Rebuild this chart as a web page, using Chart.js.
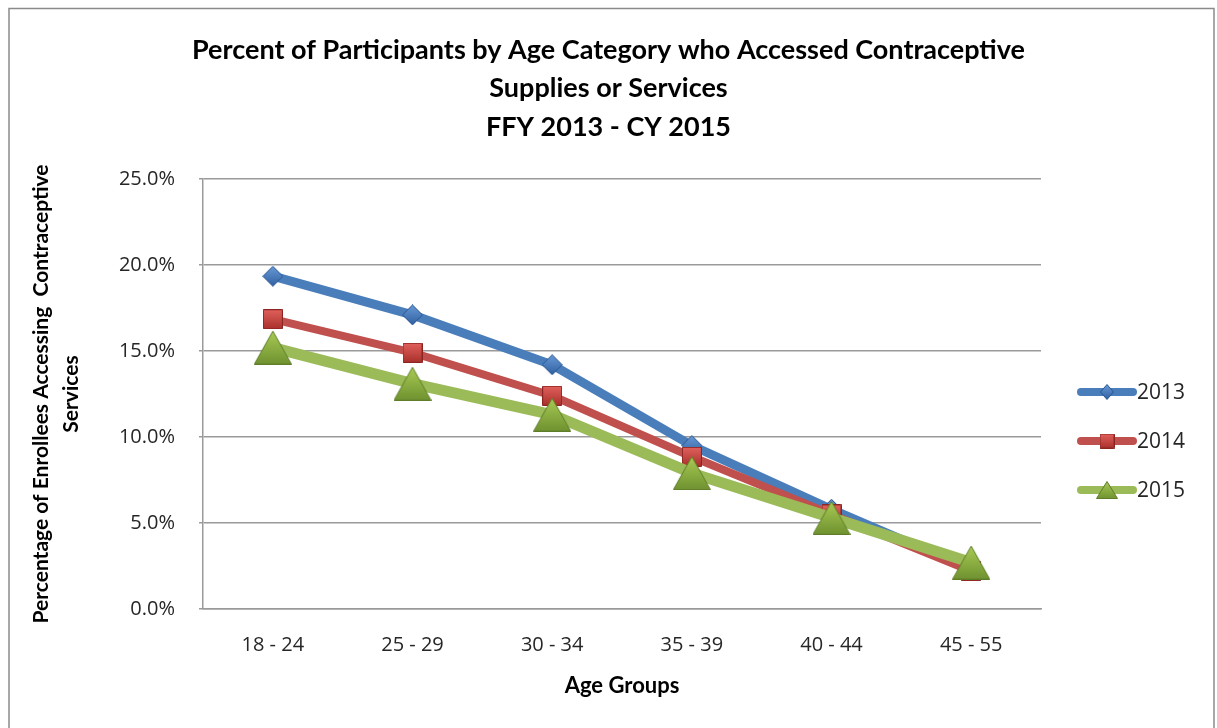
<!DOCTYPE html>
<html>
<head>
<meta charset="utf-8">
<script src="https://cdn.jsdelivr.net/npm/chart.js@4/dist/chart.umd.min.js"></script>
<style>
  html, body { margin: 0; padding: 0; background: #ffffff; }
  #wrap { width: 1217px; height: 728px; }
</style>
</head>
<body>
<div id="wrap"><canvas id="chart" width="1217" height="728"></canvas></div>
<script>
// --- DATOS ---
const ageGroups = ['18 - 24', '25 - 29', '30 - 34', '35 - 39', '40 - 44', '45 - 55'];
const years = ['2013', '2014', '2015'];
const pct2013 = [19.35, 17.1, 14.2, 9.5, 5.8, 2.3];
const pct2014 = [16.85, 14.9, 12.4, 8.85, 5.5, 2.2];
const pct2015 = [15.2, 13.1, 11.3, 7.9, 5.3, 2.7];
const yTicks = [0, 5, 10, 15, 20, 25];

const titleLines = [
    'Percent of Participants by Age Category who Accessed Contraceptive',
    'Supplies or Services',
    'FFY 2013 - CY 2015'
];
const yTitle = ['Percentage of Enrollees Accessing  Contraceptive', 'Services'];
const xTitle = 'Age Groups';

// --- MARCADORES (canvas propios, centrados en su caja) ---
function makeMarker(kind, w, h, light, dark, edge) {
    const c = document.createElement('canvas');
    c.width = w; c.height = h;
    const ctx = c.getContext('2d');
    const g = ctx.createLinearGradient(0, 0, 0, h);
    g.addColorStop(0, light);
    g.addColorStop(1, dark);
    ctx.fillStyle = g;
    ctx.strokeStyle = edge;
    ctx.lineWidth = 1;
    ctx.beginPath();
    if (kind === 'diamond') {
        ctx.moveTo(w / 2, 0.5); ctx.lineTo(w - 0.5, h / 2);
        ctx.lineTo(w / 2, h - 0.5); ctx.lineTo(0.5, h / 2);
    } else if (kind === 'square') {
        ctx.rect(0.5, 0.5, w - 1, h - 1);
    } else {
        ctx.moveTo(w / 2, 0.5); ctx.lineTo(w - 0.5, h - 0.5); ctx.lineTo(0.5, h - 0.5);
    }
    ctx.closePath();
    ctx.fill();
    ctx.stroke();
    return c;
}

const markers = [
    makeMarker('diamond', 21, 21, '#6a9bd8', '#2f5f9f', '#2a5590'),
    makeMarker('square', 20, 20, '#e2625d', '#a8302c', '#8c2522'),
    makeMarker('triangle', 38, 34, '#a9cc55', '#6f9130', '#5f7d28')
];
const legendMarkers = [
    makeMarker('diamond', 14, 16, '#6a9bd8', '#2f5f9f', '#2a5590'),
    makeMarker('square', 15, 15, '#e2625d', '#a8302c', '#8c2522'),
    makeMarker('triangle', 22, 18, '#a9cc55', '#6f9130', '#5f7d28')
];
const lineColors = ['#4a7ebb', '#c0504d', '#9bbb59'];
const lineWidths = [9, 8, 11];

// --- PLUGINS ---
const framePlugin = {
    id: 'frame',
    beforeDraw(chart) {
        const ctx = chart.ctx;
        ctx.save();
        ctx.fillStyle = '#ffffff';
        ctx.fillRect(0, 0, chart.width, chart.height);
        ctx.strokeStyle = '#8a8a8a';
        ctx.lineWidth = 1.5;
        ctx.strokeRect(9, 8.5, 1205, 740);
        ctx.restore();
    }
};

const sideLegend = {
    id: 'sideLegend',
    afterDraw(chart) {
        const ctx = chart.ctx;
        const rows = [392, 441, 490];
        ctx.save();
        chart.data.datasets.forEach((ds, i) => {
            const y = rows[i];
            ctx.strokeStyle = ds.borderColor;
            ctx.lineWidth = 8;
            ctx.lineCap = 'round';
            ctx.beginPath();
            ctx.moveTo(1081, y);
            ctx.lineTo(1133, y);
            ctx.stroke();
            const m = legendMarkers[i];
            ctx.drawImage(m, 1107 - m.width / 2, y - m.height / 2);
            ctx.fillStyle = '#262626';
            ctx.font = '21px "Open Sans"';
            ctx.textBaseline = 'middle';
            ctx.textAlign = 'left';
            ctx.fillText(ds.label, 1137, y + 1);
        });
        ctx.restore();
    }
};

const allSeries = [pct2013, pct2014, pct2015];

new Chart(document.getElementById('chart').getContext('2d'), {
    type: 'line',
    data: {
        labels: ageGroups,
        datasets: years.map((yr, i) => ({
            label: yr,
            data: allSeries[i],
            borderColor: lineColors[i],
            backgroundColor: lineColors[i],
            borderWidth: lineWidths[i],
            tension: 0,
            pointStyle: markers[i],
            order: 2 - i
        }))
    },
    options: {
        responsive: false,
        animation: false,
        events: [],
        layout: { padding: 0 },
        plugins: {
            legend: { display: false },
            tooltip: { enabled: false },
            title: {
                display: true,
                text: titleLines,
                color: '#000000',
                font: { family: 'Lato', size: 27, weight: 'bold', lineHeight: 1.42 },
                padding: { top: 31, bottom: 33 }
            }
        },
        scales: {
            x: {
                offset: true,
                grid: { display: false, drawTicks: false },
                border: { display: true, color: '#9a9a9a', width: 1.5 },
                ticks: {
                    color: '#262626',
                    padding: 24,
                    font: { family: 'Open Sans', size: 20 }
                },
                title: {
                    display: true,
                    text: xTitle,
                    color: '#000000',
                    font: { family: 'Lato', size: 22, weight: 'bold' },
                    padding: { top: 0, bottom: 29 }
                },
                afterFit(scale) { scale.height = 119; }
            },
            y: {
                min: 0,
                max: 25,
                afterBuildTicks(scale) { scale.ticks = yTicks.map(v => ({ value: v })); },
                grid: { color: '#9a9a9a', lineWidth: 1.5, drawTicks: true, tickLength: 4 },
                border: { display: true, color: '#9a9a9a', width: 1.5 },
                ticks: {
                    color: '#262626',
                    padding: 24,
                    font: { family: 'Open Sans', size: 20 },
                    callback: v => v.toFixed(1) + '%'
                },
                title: {
                    display: true,
                    text: yTitle,
                    color: '#000000',
                    font: { family: 'Lato', size: 21, weight: 'bold', lineHeight: 1.4 },
                    padding: { top: 27, bottom: 0 }
                },
                afterFit(scale) { scale.width = 203; }
            },
            // eje vacío a la derecha: reserva el sitio de la leyenda
            side: {
                type: 'linear',
                position: 'right',
                display: true,
                grid: { display: false, drawTicks: false },
                border: { display: false },
                ticks: { display: false },
                afterFit(scale) { scale.width = 176; }
            }
        }
    },
    plugins: [framePlugin, sideLegend]
});
</script>
</body>
</html>
